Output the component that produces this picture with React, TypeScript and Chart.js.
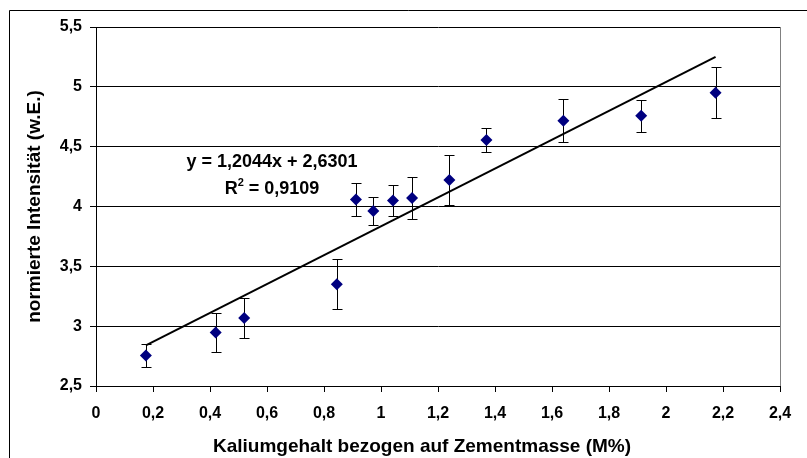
import React, { useEffect, useRef } from 'react';
import { Chart, registerables } from 'chart.js';

Chart.register(...registerables);

// ---- data ----
const kaliumX = [0.175, 0.42, 0.52, 0.845, 0.912, 0.973, 1.042, 1.109, 1.24, 1.37, 1.64, 1.913, 2.174];
const intensity = [2.755, 2.947, 3.069, 3.351, 4.059, 3.962, 4.05, 4.07, 4.221, 4.555, 4.717, 4.758, 4.951];
const errors = [0.1, 0.16, 0.165, 0.21, 0.135, 0.12, 0.13, 0.175, 0.21, 0.1, 0.18, 0.135, 0.215];
const trendX = [0.175, 2.174];
const trendY = [2.84, 5.25];
const equationText = 'y = 1,2044x + 2,6301';
const rSquaredLabel = 'R';
const rSquaredExp = '2';
const rSquaredValue = ' = 0,9109';
const equationAnchorX = 0.6175;
const equationAnchorY = [4.374, 4.145];
const xTicks = [0, 0.2, 0.4, 0.6, 0.8, 1, 1.2, 1.4, 1.6, 1.8, 2, 2.2, 2.4];
const yTicks = [2.5, 3, 3.5, 4, 4.5, 5, 5.5];
const xTitle = 'Kaliumgehalt bezogen auf Zementmasse (M%)';
const yTitle = 'normierte Intensität (w.E.)';

const FONT = 'Liberation Sans, Arial, Helvetica, sans-serif';

const fmt = (v: number) => String(Math.round(v * 10) / 10).replace('.', ',');

const framePlugin = {
  id: 'outerFrame',
  beforeDraw(chart: any) {
    const ctx = chart.ctx;
    ctx.save();
    ctx.fillStyle = '#fff';
    ctx.fillRect(0, 0, chart.width, chart.height);
    ctx.strokeStyle = '#000';
    ctx.lineWidth = 1;
    ctx.beginPath();
    ctx.moveTo(9.5, chart.height);
    ctx.lineTo(9.5, 10.5);
    ctx.lineTo(chart.width, 10.5);
    ctx.stroke();
    ctx.restore();
  },
};

const xTitlePlugin = {
  id: 'xTitle',
  afterDraw(chart: any) {
    const ctx = chart.ctx;
    ctx.save();
    ctx.fillStyle = '#000';
    ctx.font = `bold 19px ${FONT}`;
    ctx.textAlign = 'left';
    ctx.textBaseline = 'alphabetic';
    ctx.fillText(xTitle, 213, 452);
    ctx.restore();
  },
};

const errorBarPlugin = {
  id: 'errorBars',
  beforeDatasetsDraw(chart: any) {
    const ctx = chart.ctx;
    const xs = chart.scales.x;
    const ys = chart.scales.y;
    ctx.save();
    ctx.strokeStyle = '#000';
    ctx.lineWidth = 1;
    kaliumX.forEach((xv, i) => {
      const px = Math.round(xs.getPixelForValue(xv)) + 0.5;
      const top = Math.round(ys.getPixelForValue(intensity[i] + errors[i])) + 0.5;
      const bot = Math.round(ys.getPixelForValue(intensity[i] - errors[i])) + 0.5;
      ctx.beginPath();
      ctx.moveTo(px, top);
      ctx.lineTo(px, bot);
      ctx.moveTo(px - 5, top);
      ctx.lineTo(px + 5, top);
      ctx.moveTo(px - 5, bot);
      ctx.lineTo(px + 5, bot);
      ctx.stroke();
    });
    ctx.restore();
  },
};

const equationPlugin = {
  id: 'equation',
  afterDatasetsDraw(chart: any) {
    const ctx = chart.ctx;
    const xs = chart.scales.x;
    const ys = chart.scales.y;
    const cx = xs.getPixelForValue(equationAnchorX);
    ctx.save();
    ctx.fillStyle = '#000';
    ctx.textBaseline = 'middle';
    ctx.font = `bold 18px ${FONT}`;
    ctx.textAlign = 'center';
    ctx.fillText(equationText, cx, ys.getPixelForValue(equationAnchorY[0]));

    // R² with a raised, smaller exponent
    const y2 = ys.getPixelForValue(equationAnchorY[1]);
    ctx.textAlign = 'left';
    const big = `bold 18px ${FONT}`;
    const small = `bold 11px ${FONT}`;
    ctx.font = big;
    const wR = ctx.measureText(rSquaredLabel).width;
    const wV = ctx.measureText(rSquaredValue).width;
    ctx.font = small;
    const wE = ctx.measureText(rSquaredExp).width;
    let x0 = cx - (wR + wE + wV) / 2;
    ctx.font = big;
    ctx.fillText(rSquaredLabel, x0, y2);
    x0 += wR;
    ctx.font = small;
    ctx.fillText(rSquaredExp, x0, y2 - 6);
    x0 += wE;
    ctx.font = big;
    ctx.fillText(rSquaredValue, x0, y2);
    ctx.restore();
  },
};

export default function App() {
  const ref = useRef<HTMLCanvasElement | null>(null);

  useEffect(() => {
    if (!ref.current) return;
    const chart = new Chart(ref.current, {
      type: 'scatter',
      data: {
        datasets: [
          {
            label: 'Messwerte',
            data: kaliumX.map((x, i) => ({ x, y: intensity[i] })),
            pointStyle: 'rectRot',
            pointRadius: 6,
            pointBackgroundColor: '#000080',
            pointBorderColor: '#000080',
            pointBorderWidth: 0,
            showLine: false,
          },
          {
            label: 'Trend',
            data: trendX.map((x, i) => ({ x, y: trendY[i] })),
            showLine: true,
            borderColor: '#000',
            borderWidth: 2,
            pointRadius: 0,
            fill: false,
          },
        ],
      },
      options: {
        animation: false,
        responsive: false,
        layout: { padding: { top: 27, right: 27, left: 0, bottom: 0 } },
        plugins: {
          legend: { display: false },
          tooltip: { enabled: false },
        },
        scales: {
          x: {
            type: 'linear',
            min: 0,
            max: 2.4,
            afterBuildTicks: (scale: any) => {
              scale.ticks = xTicks.map((v) => ({ value: v }));
            },
            afterFit: (scale: any) => {
              scale.height = 72;
            },
            grid: {
              color: (c: any) => (c.tick && c.tick.value === 2.4 ? '#808080' : 'rgba(0,0,0,0)'),
              tickColor: '#000',
              tickLength: 6,
              lineWidth: 1,
            },
            border: { color: '#000', width: 1 },
            ticks: {
              color: '#000',
              font: { family: FONT, size: 16, weight: 'bold' },
              padding: 12,
              maxRotation: 0,
              autoSkip: false,
              callback: (v: any) => fmt(Number(v)),
            },
            title: { display: false },
          },
          y: {
            type: 'linear',
            min: 2.5,
            max: 5.5,
            afterBuildTicks: (scale: any) => {
              scale.ticks = yTicks.map((v) => ({ value: v }));
            },
            afterFit: (scale: any) => {
              scale.width = 96;
            },
            grid: {
              color: '#000',
              tickColor: '#000',
              tickLength: 6,
              lineWidth: 1,
            },
            border: { color: '#000', width: 1 },
            ticks: {
              color: '#000',
              font: { family: FONT, size: 16, weight: 'bold' },
              padding: 8,
              callback: (v: any) => fmt(Number(v)),
            },
            title: {
              display: true,
              text: yTitle,
              color: '#000',
              font: { family: FONT, size: 19, weight: 'bold' },
              padding: { top: 23, bottom: 0 },
            },
          },
        },
      },
      plugins: [framePlugin, errorBarPlugin, equationPlugin, xTitlePlugin],
    } as any);
    return () => chart.destroy();
  }, []);

  return (
    <div style={{ position: 'fixed', left: 0, top: 0, width: 807, height: 458, background: '#fff' }}>
      <canvas ref={ref} width={807} height={458} style={{ display: 'block', width: 807, height: 458 }} />
    </div>
  );
}
